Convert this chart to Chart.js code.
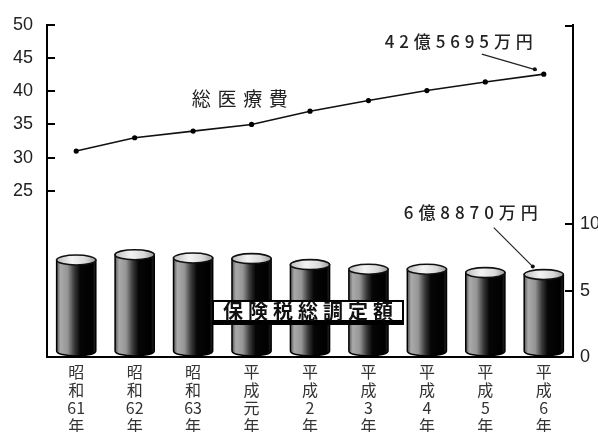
<!DOCTYPE html>
<html><head><meta charset="utf-8">
<script src="https://cdn.jsdelivr.net/npm/chart.js@4.4.1/dist/chart.umd.min.js"></script>
<style>html,body{margin:0;padding:0;background:#fff}</style>
</head><body>
<canvas id="c" width="598" height="432" style="width:598px;height:432px;display:block"></canvas>
<script>
// ---- data ----
const categories = ['昭和61年','昭和62年','昭和63年','平成元年','平成2年','平成3年','平成4年','平成5年','平成6年'];
const totalMedical = [31, 33, 34, 35, 37, 38.6, 40.1, 41.4, 42.57];   // 億円 (left axis)
const insuranceTax = [7.3, 7.7, 7.45, 7.4, 6.95, 6.6, 6.6, 6.35, 6.2]; // 億円 (right axis)
const leftTicks = [25, 30, 35, 40, 45, 50];
const rightTicks = [0, 5, 10];
const lineLabel = '総医療費';
const barLabel = '保険税総調定額';
const lastLineNote = '42億5695万円';
const lastBarNote = '6億8870万円';

const NUM_FONT = '"Liberation Sans", Arial, sans-serif';
const CJK_FONT = '"Noto Sans CJK JP", "Noto Sans", sans-serif';
const INK = '#222';

function vertical(s){ return s.match(/\d+|./g); }

function spreadText(ctx, text, cx, cy, targetW){
  const parts = [...text];
  const ws = parts.map(p => ctx.measureText(p).width);
  const total = ws.reduce((a,b)=>a+b,0);
  const gap = parts.length > 1 ? (targetW - total)/(parts.length-1) : 0;
  let xx = cx - targetW/2;
  ctx.textAlign = 'left'; ctx.textBaseline = 'middle';
  parts.forEach((p,i)=>{ ctx.fillText(p, xx, cy); xx += ws[i] + gap; });
}

const cylinders = {
  id: 'cylinders',
  afterDatasetsDraw(chart){
    const ctx = chart.ctx;
    const meta = chart.getDatasetMeta(1);
    meta.data.forEach(el => {
      const {x, y, base, width} = el.getProps(['x','y','base','width'], true);
      const l = x - width/2, r = x + width/2, rx = width/2, ry = 5;
      const g = ctx.createLinearGradient(l, 0, r, 0);
      g.addColorStop(0, '#555');
      g.addColorStop(0.1, '#aaa');
      g.addColorStop(0.28, '#959595');
      g.addColorStop(0.45, '#3a3a3a');
      g.addColorStop(0.6, '#060606');
      g.addColorStop(0.92, '#000');
      g.addColorStop(1, '#2a2a2a');
      ctx.save();
      ctx.beginPath();
      ctx.moveTo(l, y);
      ctx.lineTo(l, base - ry - 1);
      ctx.ellipse(x, base - ry - 1, rx, ry, 0, Math.PI, 0, true);
      ctx.lineTo(r, y);
      ctx.closePath();
      ctx.fillStyle = g; ctx.fill();
      ctx.lineWidth = 1.5; ctx.strokeStyle = '#000'; ctx.stroke();
      const g2 = ctx.createLinearGradient(l, 0, r, 0);
      g2.addColorStop(0, '#bdbdbd');
      g2.addColorStop(0.4, '#f4f4f4');
      g2.addColorStop(0.75, '#d8d8d8');
      g2.addColorStop(1, '#9a9a9a');
      ctx.beginPath();
      ctx.ellipse(x, y, rx, ry, 0, 0, Math.PI*2);
      ctx.fillStyle = g2; ctx.fill();
      ctx.lineWidth = 1.6; ctx.strokeStyle = '#111'; ctx.stroke();
      ctx.restore();
    });
  }
};

const deco = {
  id: 'deco',
  afterDraw(chart){
    const ctx = chart.ctx, ca = chart.chartArea;
    const xs = chart.scales.x, ys = chart.scales.y, ys2 = chart.scales.y2;
    ctx.save();
    // inward tick marks
    ctx.strokeStyle = '#000'; ctx.lineWidth = 2;
    leftTicks.forEach(v => {
      const py = Math.round(ys.getPixelForValue(v));
      ctx.beginPath(); ctx.moveTo(ca.left, py); ctx.lineTo(ca.left + 8, py); ctx.stroke();
    });
    [5, 10, ys2.max].forEach(v => {
      const py = Math.round(ys2.getPixelForValue(v)) + (v === ys2.max ? 1 : 0);
      ctx.beginPath(); ctx.moveTo(ca.right, py); ctx.lineTo(ca.right - 8, py); ctx.stroke();
    });

    ctx.fillStyle = INK;
    // line label
    ctx.font = '19px ' + CJK_FONT;
    spreadText(ctx, lineLabel, xs.getPixelForValue(2.8), ys.getPixelForValue(38.9), 96);

    // last line point note
    const lm = chart.getDatasetMeta(0).data;
    const lp = lm[lm.length-1];
    ctx.font = '500 17px ' + CJK_FONT;
    spreadText(ctx, lastLineNote, lp.x - 85, lp.y - 33, 148);
    ctx.strokeStyle = '#222'; ctx.lineWidth = 1.2;
    ctx.beginPath(); ctx.moveTo(lp.x - 62, lp.y - 20); ctx.lineTo(lp.x - 7, lp.y - 4); ctx.stroke();
    ctx.beginPath(); ctx.arc(lp.x - 9, lp.y - 5, 2, 0, Math.PI*2); ctx.fillStyle = '#111'; ctx.fill();

    // last bar note
    const bm = chart.getDatasetMeta(1).data;
    const bp = bm[bm.length-1];
    ctx.fillStyle = INK;
    ctx.font = '500 17px ' + CJK_FONT;
    spreadText(ctx, lastBarNote, bp.x - 73, bp.y - 62, 134);
    ctx.beginPath(); ctx.moveTo(bp.x - 50, bp.y - 47); ctx.lineTo(bp.x - 11, bp.y - 8); ctx.stroke();
    ctx.beginPath(); ctx.arc(bp.x - 11, bp.y - 8, 2, 0, Math.PI*2); ctx.fillStyle = '#111'; ctx.fill();

    // bar label box
    const cx = xs.getPixelForValue(4) - 2, cy = ys2.getPixelForValue(3.35);
    const w = 192, h = 25, x0 = cx - w/2, y0 = cy - h/2;
    ctx.fillStyle = '#000'; ctx.fillRect(x0, y0, w, h);
    ctx.fillStyle = '#fff'; ctx.fillRect(x0 + 2, y0 + 2, w - 4, h - 7);
    ctx.fillStyle = '#111';
    ctx.font = 'bold 20px ' + CJK_FONT;
    spreadText(ctx, barLabel, cx, y0 + 2 + (h - 7)/2, 170);
    ctx.restore();
  }
};

new Chart(document.getElementById('c'), {
  type: 'bar',
  data: {
    labels: categories.map(vertical),
    datasets: [
      { type: 'line', label: lineLabel, data: totalMedical, yAxisID: 'y',
        borderColor: '#111', borderWidth: 1.6, pointRadius: 2.6, pointBackgroundColor: '#000',
        pointBorderWidth: 0, tension: 0, order: 0 },
      { type: 'bar', label: barLabel, data: insuranceTax, yAxisID: 'y2',
        backgroundColor: 'rgba(0,0,0,0)', borderWidth: 0,
        barPercentage: 0.67, categoryPercentage: 1, order: 1 }
    ]
  },
  options: {
    responsive: false, animation: false, devicePixelRatio: 1,
    layout: { padding: { top: 24, left: 0, right: 0, bottom: 0 } },
    plugins: { legend: { display: false }, tooltip: { enabled: false } },
    scales: {
      x: {
        offset: true,
        grid: { display: false, drawTicks: false },
        border: { display: true, color: '#000', width: 2 },
        ticks: { autoSkip: false, maxRotation: 0, minRotation: 0, padding: 6, color: '#333',
                 font: { family: CJK_FONT, size: 16, lineHeight: 1.12 } },
        afterFit(s){ s.height = 75; }
      },
      y: {
        position: 'left', min: 0, max: 50,
        grid: { display: false, drawTicks: false },
        border: { display: true, color: '#000', width: 2 },
        ticks: { stepSize: 5, padding: 14, color: INK,
                 font: { family: NUM_FONT, size: 18 },
                 callback: v => leftTicks.includes(v) ? String(v) : '' },
        afterFit(s){ s.width = 47; }
      },
      y2: {
        position: 'right', min: 0, max: 25,
        grid: { display: false, drawTicks: false },
        border: { display: true, color: '#000', width: 2 },
        ticks: { stepSize: 5, padding: 7, color: INK,
                 font: { family: NUM_FONT, size: 18 },
                 callback: v => rightTicks.includes(v) ? String(v) : '' },
        afterFit(s){ s.width = 25; }
      }
    }
  },
  plugins: [cylinders, deco]
});
</script>
</body></html>
